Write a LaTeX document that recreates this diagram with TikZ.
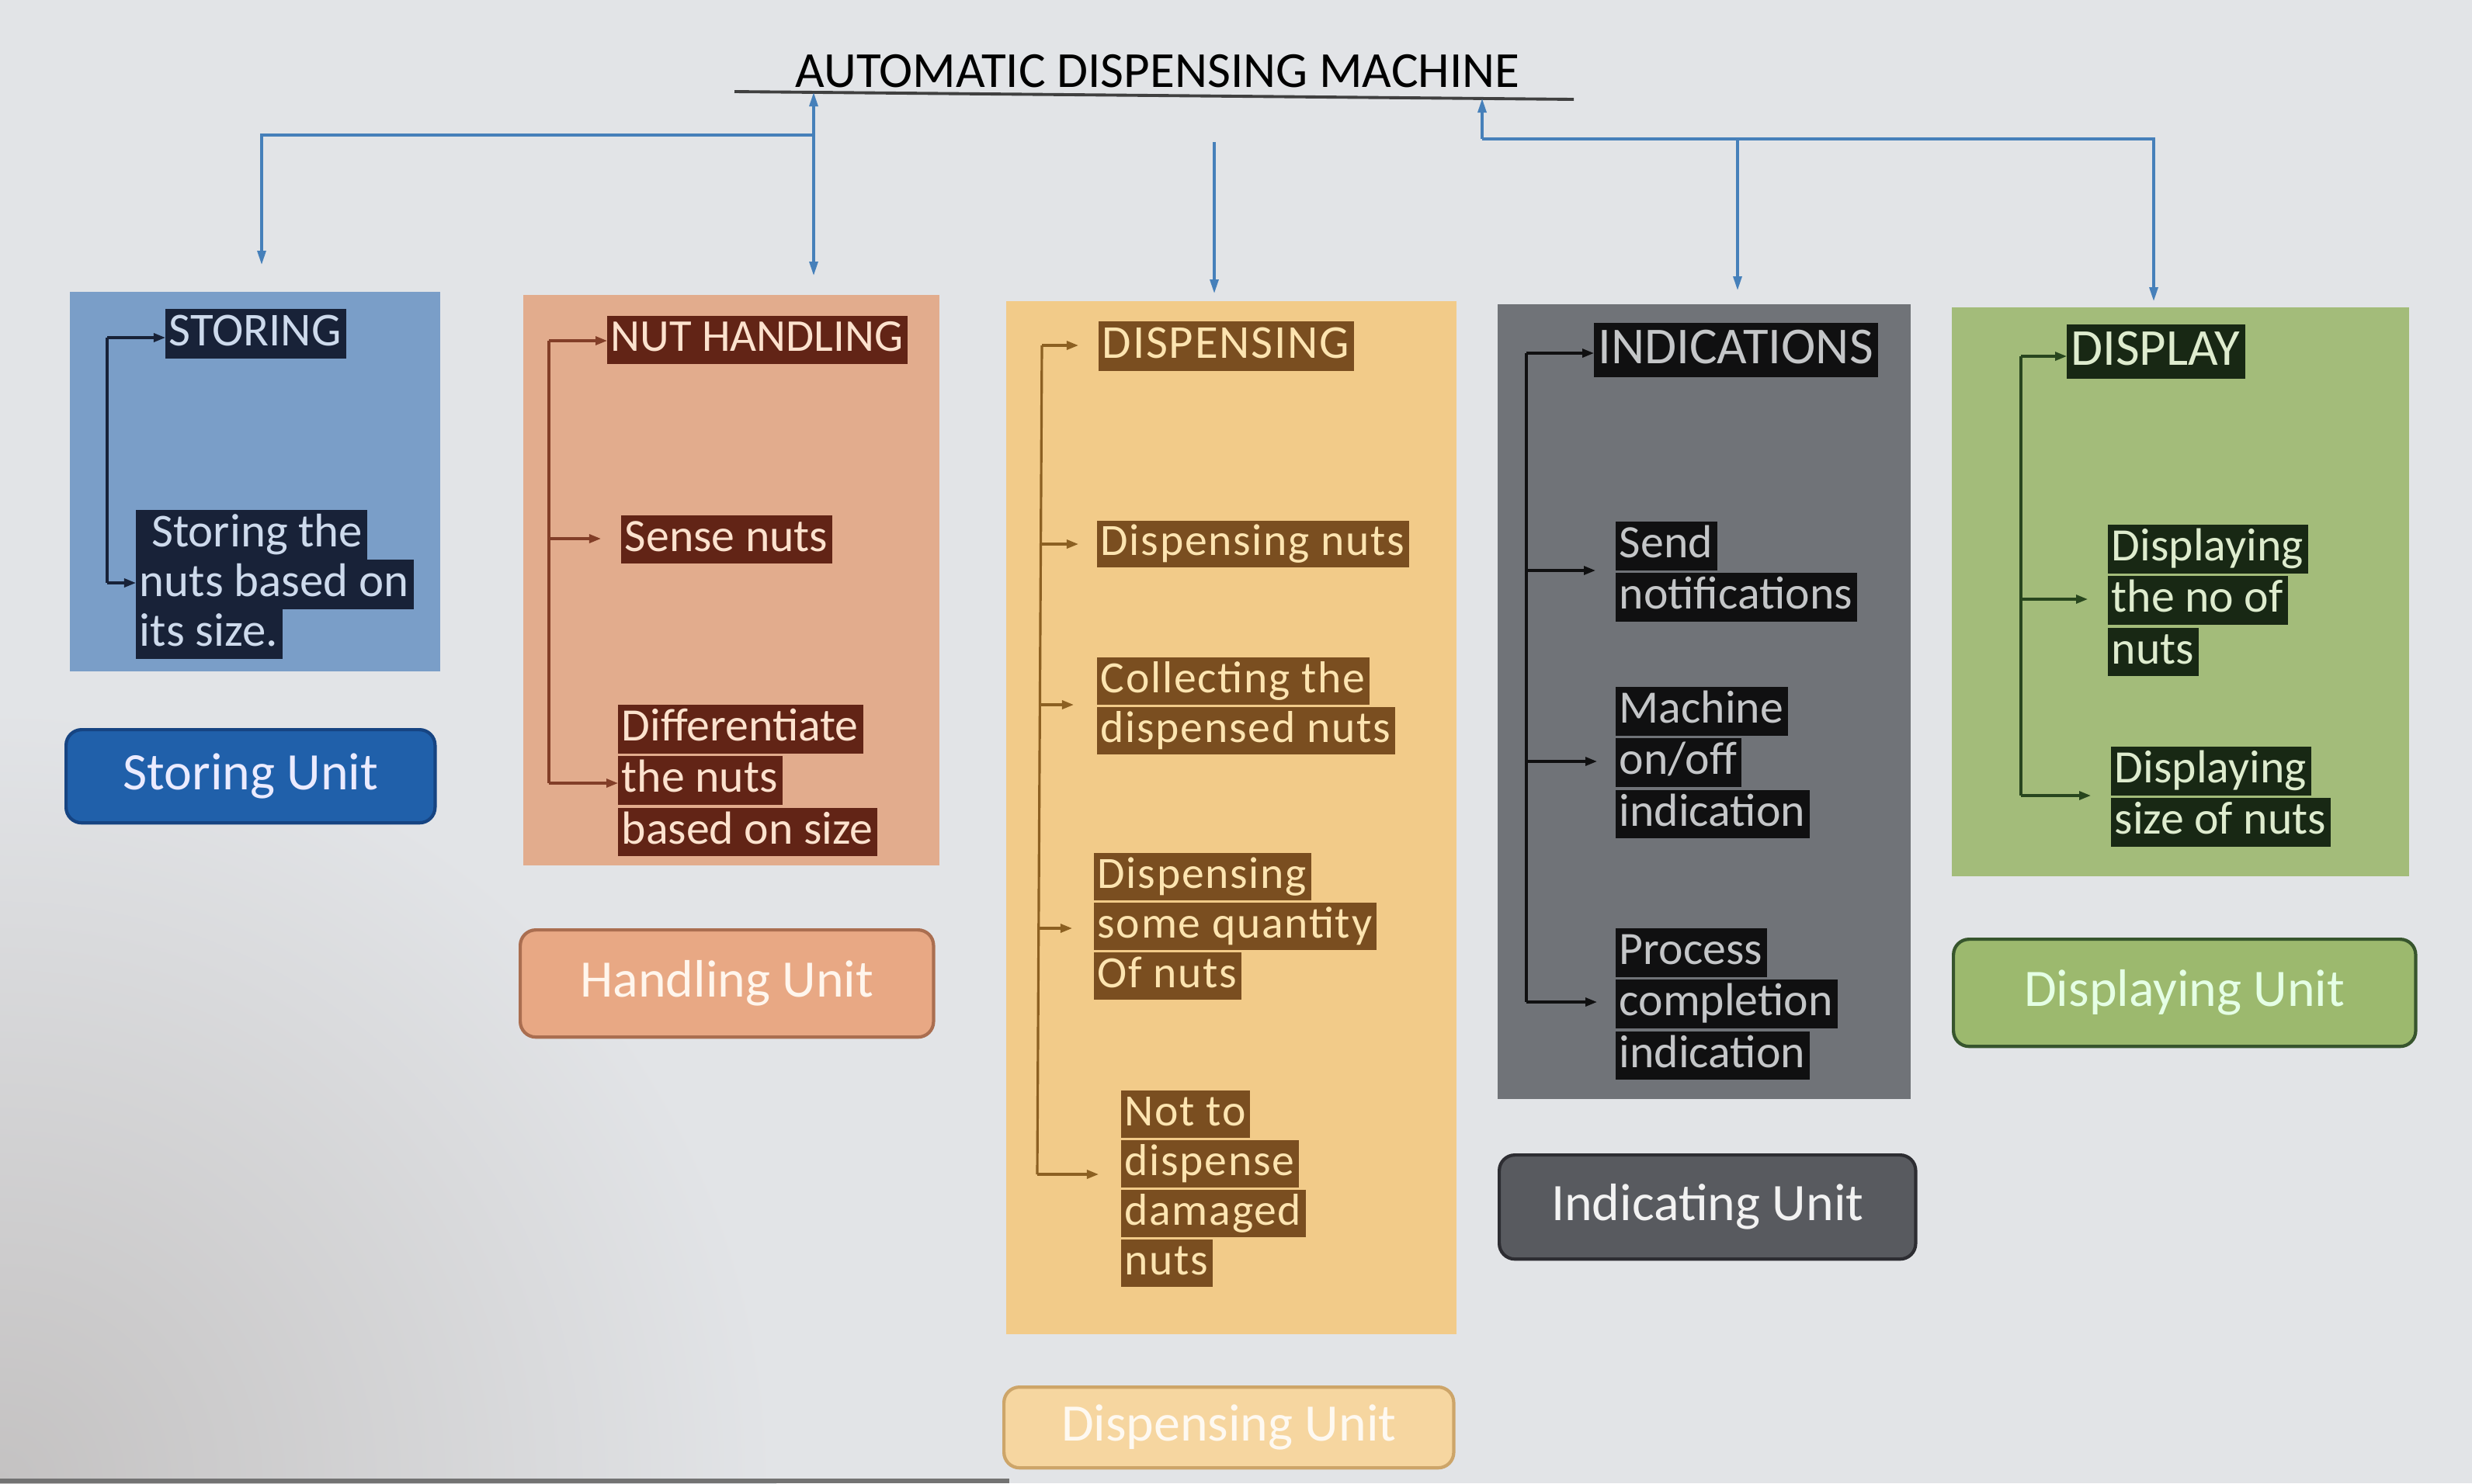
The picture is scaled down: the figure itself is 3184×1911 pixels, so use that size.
\documentclass[tikz,border=0pt]{standalone}
\usepackage{fontspec}
\setmainfont{Carlito}
\newfontfamily\dispfont[LetterSpace=3]{Carlito}
\usetikzlibrary{arrows.meta}
\definecolor{bgM}{RGB}{226,228,231}
\definecolor{bgD}{RGB}{196,194,194}
\definecolor{topblue}{RGB}{70,128,186}
\definecolor{stbg}{RGB}{122,158,200}
\definecolor{sthl}{RGB}{24,34,56}
\definecolor{sttx}{RGB}{205,218,236}
\definecolor{nhbg}{RGB}{226,172,141}
\definecolor{nhhl}{RGB}{98,36,22}
\definecolor{nhtx}{RGB}{252,226,206}
\definecolor{nhln}{RGB}{130,62,40}
\definecolor{dsbg}{RGB}{242,203,137}
\definecolor{dshl}{RGB}{122,78,32}
\definecolor{dstx}{RGB}{252,228,176}
\definecolor{dsln}{RGB}{140,96,34}
\definecolor{inbg}{RGB}{112,115,120}
\definecolor{inhl}{RGB}{16,16,17}
\definecolor{intx}{RGB}{196,198,200}
\definecolor{dpbg}{RGB}{163,188,122}
\definecolor{dphl}{RGB}{24,40,20}
\definecolor{dptx}{RGB}{222,236,206}
\definecolor{dpln}{RGB}{40,70,30}
\definecolor{ubSt}{RGB}{32,96,170}
\definecolor{ubStB}{RGB}{22,68,130}
\definecolor{ubNh}{RGB}{232,168,132}
\definecolor{ubNhB}{RGB}{170,110,80}
\definecolor{ubDs}{RGB}{246,214,160}
\definecolor{ubDsB}{RGB}{205,165,105}
\definecolor{ubIn}{RGB}{88,90,95}
\definecolor{ubInB}{RGB}{45,45,50}
\definecolor{ubDp}{RGB}{156,185,110}
\definecolor{ubDpB}{RGB}{55,85,45}
\setlength{\fboxsep}{0pt}
\newcommand\hl[2]{\colorbox{#1}{\rule[-0.27em]{0pt}{1.05em}\hspace{0.08em}#2\hspace{0.1em}}}
\tikzset{
  panel/.style={inner sep=0pt, anchor=north west, outer sep=0pt},
  unitbtn/.style={rounded corners=0.2cm, line width=1.2pt, inner sep=0pt, anchor=north west},
  unittext/.style={inner sep=0pt, font=\fontsize{19.3pt}{22pt}\selectfont},
  item/.style={inner sep=0pt, outer sep=0pt, anchor=north west, align=left},
  topline/.style={draw=topblue, line width=0.9pt},
  toparrow/.style={topline, -{Triangle[length=0.18cm,width=0.11cm]}},
  conn/.style={line width=0.9pt},
  connarrow/.style={conn, -{Triangle[length=0.15cm,width=0.11cm]}},
}
\begin{document}
\begin{tikzpicture}[x=0.01cm, y=-0.01cm]
\useasboundingbox (0,0) rectangle (3184,1911);
\begin{scope}
\clip (0,0) rectangle (3184,1911);
\fill[bgM] (0,0) rectangle (3184,1911);
\shade[inner color=bgD, outer color=bgM] (0,1911) circle (1000);
\fill[black!55] (0,1905) rectangle (1300,1911);
\end{scope}

% title
\node[anchor=base, font=\fontsize{18.5pt}{22pt}\selectfont, inner sep=0pt] (title) at (1491,112) {AUTOMATIC DISPENSING MACHINE};
\coordinate (barL) at (946,118);
\coordinate (barR) at (2027,128);
\draw[black!75, line width=1.1pt] (barL) -- (barR);

% panels
\node[panel, fill=stbg, minimum width=4.77cm, minimum height=4.89cm] (stP) at (90,376) {};
\node[panel, fill=nhbg, minimum width=5.36cm, minimum height=7.35cm] (nhP) at (674,380) {};
\node[panel, fill=dsbg, minimum width=5.80cm, minimum height=13.30cm] (dsP) at (1296,388) {};
\node[panel, fill=inbg, minimum width=5.32cm, minimum height=10.23cm] (inP) at (1929,392) {};
\node[panel, fill=dpbg, minimum width=5.89cm, minimum height=7.33cm] (dpP) at (2514,396) {};

% unit buttons
\node[unitbtn, fill=ubSt, draw=ubStB, minimum width=4.75cm, minimum height=1.20cm] (stU) at (83,938) {};
\node[unittext, text=white!92!blue] at (stU.center) {Storing Unit};
\node[unitbtn, fill=ubNh, draw=ubNhB, minimum width=5.32cm, minimum height=1.38cm] (nhU) at (668,1196) {};
\node[unittext, text=white!93!orange] at (nhU.center) {Handling Unit};
\node[unitbtn, fill=ubDs, draw=ubDsB, minimum width=5.79cm, minimum height=1.04cm] (dsU) at (1291,1785) {};
\node[unittext, text=white!85!ubDs] at (dsU.center) {Dispensing Unit};
\node[unitbtn, fill=ubIn, draw=ubInB, minimum width=5.36cm, minimum height=1.34cm] (inU) at (1929,1486) {};
\node[unittext, text=white!95!black] at (inU.center) {Indicating Unit};
\node[unitbtn, fill=ubDp, draw=ubDpB, minimum width=5.95cm, minimum height=1.38cm] (dpU) at (2514,1208) {};
\node[unittext, text=white!90!green] at (dpU.center) {Displaying Unit};

% top connectors
\coordinate (jL) at (1048,174);
\coordinate (jR) at (1909,179);
\coordinate (upL) at (1048,119);
\coordinate (upR) at (1909,127);
\coordinate (aSt) at (337,341);
\coordinate (aNh) at (1048,355);
\coordinate (cDs) at (1564,183);
\coordinate (aDs) at (1564,378);
\coordinate (aIn) at (2238,374);
\coordinate (aDp) at (2774,388);
\draw[toparrow] (jL) -- (upL);
\draw[toparrow] (jL) -- (aNh);
\draw[toparrow] (jL) -| (aSt);
\draw[toparrow] (jR) -- (upR);
\draw[toparrow] (jR) -| (aDp);
\draw[toparrow] (aIn |- jR) -- (aIn);
\draw[toparrow] (cDs) -- (aDs);

% ---------- Storing
\begin{scope}[font=\fontsize{17.3pt}{18.2pt}\selectfont]
\node[item, anchor=west, text=sttx] (stH) at (213,430) {\hl{sthl}{STORING}};
\node[item, text=sttx] (stI) at (175,657) {\hl{sthl}{\hspace{0.25em}Storing the}\\\hl{sthl}{nuts based on}\\\hl{sthl}{its size.}};
\end{scope}
\coordinate (stA) at (138,435);
\coordinate (stB) at (138,751);
\draw[conn, draw=sthl] (stA) -- (stB);
\draw[connarrow, draw=sthl, fill=sthl] (stA) -- (stA -| stH.west);
\draw[connarrow, draw=sthl, fill=sthl] (stB) -- (stB -| stI.west);

% ---------- Nut handling
\begin{scope}[font=\fontsize{16.7pt}{17.5pt}\selectfont]
\node[item, anchor=west, text=nhtx] (nhH) at (782,438) {\hl{nhhl}{NUT HANDLING}};
\end{scope}
\begin{scope}[font=\fontsize{17pt}{17.85pt}\selectfont]
\node[item, anchor=west, text=nhtx] (nhI1) at (800,695) {\hl{nhhl}{Sense nuts}};
\node[item, text=nhtx] (nhI2) at (796,908) {\hl{nhhl}{Differentiate}\\\hl{nhhl}{the nuts}\\\hl{nhhl}{based on size}};
\end{scope}
\coordinate (nhA) at (707,439);
\coordinate (nhB) at (707,694);
\coordinate (nhC) at (707,1009);
\draw[conn, draw=nhln] (nhA) -- (nhC);
\draw[connarrow, draw=nhln, fill=nhln] (nhA) -- (nhA -| nhH.west);
\draw[connarrow, draw=nhln, fill=nhln, shorten >=0.26cm] (nhB) -- (nhB -| nhI1.west);
\draw[connarrow, draw=nhln, fill=nhln] (nhC) -- (nhC -| nhI2.west);

% ---------- Dispensing
\begin{scope}[font=\dispfont\fontsize{17.3pt}{18.2pt}\selectfont]
\node[item, anchor=west, text=dstx] (dsH) at (1415,446) {\hl{dshl}{DISPENSING}};
\end{scope}
\begin{scope}[font=\dispfont\fontsize{16.4pt}{17.2pt}\selectfont]
\node[item, anchor=west, text=dstx] (dsI1) at (1413,701) {\hl{dshl}{Dispensing nuts}};
\node[item, text=dstx] (dsI2) at (1413,847) {\hl{dshl}{Collecting the}\\\hl{dshl}{dispensed nuts}};
\node[item, text=dstx] (dsI3) at (1409,1099) {\hl{dshl}{Dispensing}\\\hl{dshl}{some quantity}\\\hl{dshl}{Of nuts}};
\node[item, text=dstx] (dsI4) at (1444,1405) {\hl{dshl}{Not to}\\\hl{dshl}{dispense}\\\hl{dshl}{damaged}\\\hl{dshl}{nuts}};
\end{scope}
\coordinate (dsA) at (1342,445);
\coordinate (dsB) at (1341,701);
\coordinate (dsC) at (1340,908);
\coordinate (dsD) at (1338,1196);
\coordinate (dsE) at (1336,1513);
\draw[conn, draw=dsln] (dsA) -- (dsE);
\draw[connarrow, draw=dsln, fill=dsln, shorten >=0.26cm] (dsA) -- (dsA -| dsH.west);
\draw[connarrow, draw=dsln, fill=dsln, shorten >=0.24cm] (dsB) -- (dsB -| dsI1.west);
\draw[connarrow, draw=dsln, fill=dsln, shorten >=0.30cm] (dsC) -- (dsC -| dsI2.west);
\draw[connarrow, draw=dsln, fill=dsln, shorten >=0.28cm] (dsD) -- (dsD -| dsI3.west);
\draw[connarrow, draw=dsln, fill=dsln, shorten >=0.29cm] (dsE) -- (dsE -| dsI4.west);

% ---------- Indications
\begin{scope}[font=\fontsize{19pt}{19.95pt}\selectfont]
\node[item, anchor=west, text=intx] (inH) at (2053,451) {\hl{inhl}{INDICATIONS}};
\end{scope}
\begin{scope}[font=\fontsize{17pt}{17.85pt}\selectfont]
\node[item, text=intx] (inI1) at (2081,672) {\hl{inhl}{Send}\\\hl{inhl}{notifications}};
\node[item, text=intx] (inI2) at (2081,885) {\hl{inhl}{Machine}\\\hl{inhl}{on/off}\\\hl{inhl}{indication}};
\node[item, text=intx] (inI3) at (2081,1196) {\hl{inhl}{Process}\\\hl{inhl}{completion}\\\hl{inhl}{indication}};
\end{scope}
\coordinate (inA) at (1966,455);
\coordinate (inB) at (1966,735);
\coordinate (inC) at (1966,981);
\coordinate (inD) at (1966,1291);
\draw[conn, draw=inhl] (inA) -- (inD);
\draw[connarrow, draw=inhl, fill=inhl] (inA) -- (inA -| inH.west);
\draw[connarrow, draw=inhl, fill=inhl, shorten >=0.26cm] (inB) -- (inB -| inI1.west);
\draw[connarrow, draw=inhl, fill=inhl, shorten >=0.24cm] (inC) -- (inC -| inI2.west);
\draw[connarrow, draw=inhl, fill=inhl, shorten >=0.24cm] (inD) -- (inD -| inI3.west);

% ---------- Display
\begin{scope}[font=\fontsize{19pt}{19.95pt}\selectfont]
\node[item, anchor=west, text=dptx] (dpH) at (2662,453) {\hl{dphl}{DISPLAY}};
\end{scope}
\begin{scope}[font=\fontsize{17pt}{17.85pt}\selectfont]
\node[item, text=dptx] (dpI1) at (2715,676) {\hl{dphl}{Displaying}\\\hl{dphl}{the no of}\\\hl{dphl}{nuts}};
\node[item, text=dptx] (dpI2) at (2719,962) {\hl{dphl}{Displaying}\\\hl{dphl}{size of nuts}};
\end{scope}
\coordinate (dpA) at (2603,459);
\coordinate (dpB) at (2603,772);
\coordinate (dpC) at (2603,1025);
\draw[conn, draw=dpln] (dpA) -- (dpC);
\draw[connarrow, draw=dpln, fill=dpln] (dpA) -- (dpA -| dpH.west);
\draw[connarrow, draw=dpln, fill=dpln, shorten >=0.26cm] (dpB) -- (dpB -| dpI1.west);
\draw[connarrow, draw=dpln, fill=dpln, shorten >=0.26cm] (dpC) -- (dpC -| dpI2.west);
\end{tikzpicture}
\end{document}
